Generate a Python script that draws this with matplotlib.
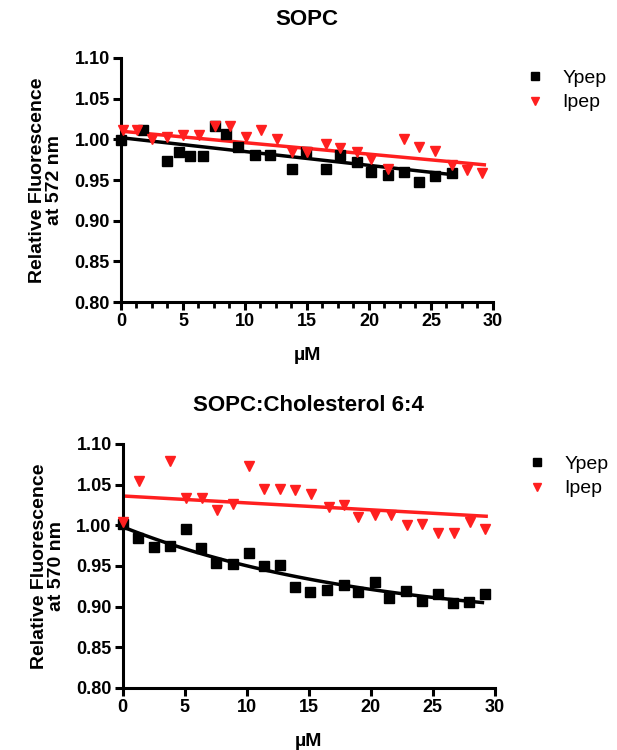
import numpy as np
import matplotlib
matplotlib.use("Agg")
import matplotlib.pyplot as plt
from matplotlib.ticker import MultipleLocator

plt.rcParams['font.family'] = ['Liberation Sans', 'DejaVu Sans']

# SOPC
sopc_y_x = [0, 1.8, 3.7, 4.7, 5.6, 6.6, 7.6, 8.5, 9.4, 10.8, 12.0, 13.8, 14.9,
            16.5, 17.7, 19.0, 20.2, 21.5, 22.8, 24.0, 25.3, 26.7]
sopc_y_val = [0.999, 1.011, 0.973, 0.984, 0.980, 0.980, 1.016, 1.006, 0.991, 0.981, 0.981, 0.964, 0.985,
              0.963, 0.981, 0.972, 0.960, 0.956, 0.960, 0.948, 0.955, 0.958]
sopc_i_x = [0.2, 1.3, 2.5, 3.7, 5.0, 6.3, 7.6, 8.8, 10.1, 11.3, 12.6, 13.8, 15.0,
            16.5, 17.7, 19.0, 20.2, 21.5, 22.8, 24.0, 25.3, 26.7, 27.9, 29.1]
sopc_i_val = [1.012, 1.011, 1.000, 1.003, 1.005, 1.005, 1.016, 1.016, 1.003, 1.012, 1.000, 0.985, 0.985,
              0.994, 0.989, 0.985, 0.976, 0.963, 1.001, 0.991, 0.986, 0.968, 0.962, 0.959]
# linear fits: (intercept, slope, x end)
sopc_y_fit = (1.002, -0.00170, 26.7)
sopc_i_fit = (1.010, -0.00141, 29.3)

# SOPC:Cholesterol 6:4
chol_y_x = [0, 1.2, 2.5, 3.8, 5.1, 6.3, 7.5, 8.9, 10.2, 11.4, 12.7, 13.9, 15.1,
            16.5, 17.8, 19.0, 20.3, 21.5, 22.8, 24.1, 25.4, 26.6, 27.9, 29.2]
chol_y_val = [1.002, 0.984, 0.973, 0.974, 0.995, 0.972, 0.954, 0.952, 0.966, 0.950, 0.951, 0.924, 0.918,
              0.921, 0.926, 0.918, 0.930, 0.910, 0.919, 0.907, 0.915, 0.904, 0.906, 0.916]
chol_i_x = [0, 1.3, 3.8, 5.1, 6.4, 7.6, 8.9, 10.2, 11.4, 12.7, 13.9, 15.2,
            16.6, 17.8, 19.0, 20.3, 21.6, 22.9, 24.1, 25.4, 26.7, 28.0, 29.2]
chol_i_val = [1.004, 1.054, 1.079, 1.034, 1.034, 1.019, 1.026, 1.073, 1.044, 1.044, 1.043, 1.039,
              1.022, 1.025, 1.010, 1.013, 1.013, 1.000, 1.002, 0.991, 0.991, 1.004, 0.996]
# one-phase decay fit: (y0, plateau, k, x end)
chol_y_fit = (0.998, 0.8765, 0.05, 29.0)
chol_i_fit = (1.036, -0.00085, 29.3)

red = '#ff1f1f'

fig = plt.figure(figsize=(6.17, 7.5), dpi=100)
ax1 = fig.add_axes([0.196, 0.5973, 0.603, 0.3254])
ax2 = fig.add_axes([0.199, 0.0827, 0.603, 0.3254])


def style(ax, title, ylabel, minor):
    ax.set_xlim(0, 30)
    ax.set_ylim(0.80, 1.10)
    ax.xaxis.set_major_locator(MultipleLocator(5))
    ax.yaxis.set_major_locator(MultipleLocator(0.05))
    ax.yaxis.set_major_formatter(plt.FormatStrFormatter('%.2f'))
    if minor:
        ax.xaxis.set_minor_locator(MultipleLocator(1.25))
    for s in ['top', 'right']:
        ax.spines[s].set_visible(False)
    for s in ['left', 'bottom']:
        ax.spines[s].set_linewidth(2.2)
    ax.tick_params(which='major', direction='out', length=6, width=2.2, labelsize=13, pad=2)
    ax.tick_params(which='minor', direction='out', length=4, width=2)
    for lab in ax.get_xticklabels() + ax.get_yticklabels():
        lab.set_fontweight('bold')
    ax.set_title(title, fontsize=16, fontweight='bold', pad=24)
    ax.set_ylabel(ylabel, fontsize=14, fontweight='bold', labelpad=8, linespacing=1.05)
    ax.set_xlabel('µM', fontsize=14, fontweight='bold', labelpad=12)
    ax.legend(loc='upper left', bbox_to_anchor=(1.035, 1.025), frameon=False,
              fontsize=14, handletextpad=0.8, labelspacing=0.35, handlelength=1.2,
              markerscale=0.8)


# top panel
ax1.plot(sopc_y_x, sopc_y_val, 's', color='black', ms=7, label='Ypep', clip_on=False, zorder=3)
ax1.plot(sopc_i_x, sopc_i_val, 'v', color=red, ms=7.5, label='Ipep', clip_on=False, zorder=3)
xf = np.linspace(0, sopc_y_fit[2], 50)
ax1.plot(xf, sopc_y_fit[0] + sopc_y_fit[1] * xf, color='black', lw=2.5, zorder=2)
xf = np.linspace(0, sopc_i_fit[2], 50)
ax1.plot(xf, sopc_i_fit[0] + sopc_i_fit[1] * xf, color=red, lw=2.5, zorder=2)
style(ax1, 'SOPC', 'Relative Fluorescence\nat 572 nm', True)

# bottom panel
ax2.plot(chol_y_x, chol_y_val, 's', color='black', ms=7, label='Ypep', clip_on=False, zorder=3)
ax2.plot(chol_i_x, chol_i_val, 'v', color=red, ms=7.5, label='Ipep', clip_on=False, zorder=3)
xf = np.linspace(0, chol_y_fit[3], 100)
ax2.plot(xf, chol_y_fit[1] + (chol_y_fit[0] - chol_y_fit[1]) * np.exp(-chol_y_fit[2] * xf),
         color='black', lw=2.5, zorder=2)
xf = np.linspace(0, chol_i_fit[2], 50)
ax2.plot(xf, chol_i_fit[0] + chol_i_fit[1] * xf, color=red, lw=2.5, zorder=2)
style(ax2, 'SOPC:Cholesterol 6:4', 'Relative Fluorescence\nat 570 nm', False)

fig.savefig('out.png', dpi=100)
